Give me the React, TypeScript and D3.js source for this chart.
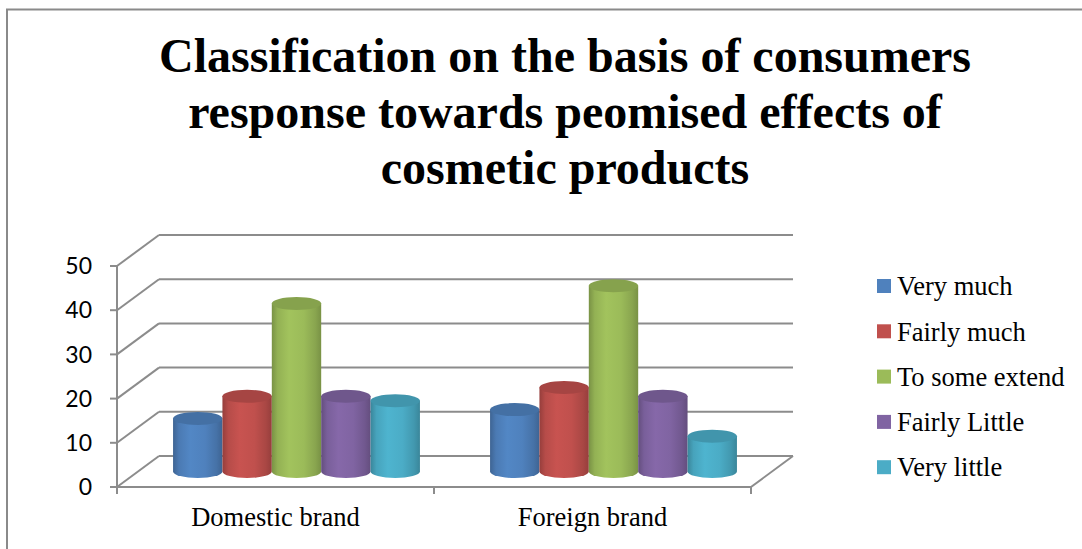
import React from "react";
import * as d3 from "d3";

const categories = ["Domestic brand", "Foreign brand"];
const seriesNames = ["Very much", "Fairly much", "To some extend", "Fairly Little", "Very little"];
const veryMuch = [12, 14];
const fairlyMuch = [17, 19];
const toSomeExtend = [38, 42];
const fairlyLittle = [17, 17];
const veryLittle = [16, 8];
const seriesValues = [veryMuch, fairlyMuch, toSomeExtend, fairlyLittle, veryLittle];
const yTicks = [0, 10, 20, 30, 40, 50];
const titleLines = [
  "Classification on the basis of consumers",
  "response towards peomised effects of",
  "cosmetic products",
];
const colors = ["#4F81BD", "#C0504D", "#9BBB59", "#8064A2", "#4BACC6"];

const W = 1082;
const H = 549;
const DX = 42;
const DY = -31;
const GRID = "#8c8c8c";
const SERIF = "'Liberation Serif', 'Times New Roman', serif";

export default function App() {
  const x = d3.scaleBand<string>().domain(categories).range([117, 751]).padding(0);
  const inner = d3
    .scaleBand<string>()
    .domain(seriesNames)
    .range([0, x.bandwidth()])
    .paddingInner(0)
    .paddingOuter(0.71);
  const y = d3.scaleLinear().domain([0, 50]).range([487, 266]);

  const rx = inner.bandwidth() / 2;
  const ry = 6.5;

  const bars: JSX.Element[] = [];
  categories.forEach((cat, ci) => {
    seriesNames.forEach((s, si) => {
      const v = seriesValues[si][ci];
      const cx = (x(cat) as number) + (inner(s) as number) + rx + DX / 2;
      const yb = y(0) + DY / 2;
      const yt = y(v) + DY / 2;
      const c = d3.color(colors[si])!;
      const body = `M${cx - rx},${yt} L${cx - rx},${yb} A${rx},${ry} 0 0 0 ${cx + rx},${yb} L${cx + rx},${yt} Z`;
      bars.push(
        <g key={`${ci}-${si}`}>
          <path d={body} fill={`url(#grad${si})`} />
          <ellipse cx={cx} cy={yt} rx={rx} ry={ry} fill={c.darker(0.4).toString()} />
        </g>
      );
    });
  });

  return (
    <svg width={W} height={H} style={{ position: "absolute", left: 0, top: 0, background: "#fff" }}>
      <defs>
        {colors.map((col, i) => {
          const c = d3.color(col)!;
          return (
            <linearGradient id={`grad${i}`} key={i} x1="0" x2="1" y1="0" y2="0">
              <stop offset="0%" stopColor={c.darker(0.7).toString()} />
              <stop offset="12%" stopColor={c.darker(0.15).toString()} />
              <stop offset="35%" stopColor={c.brighter(0.12).toString()} />
              <stop offset="65%" stopColor={c.toString()} />
              <stop offset="88%" stopColor={c.darker(0.35).toString()} />
              <stop offset="100%" stopColor={c.darker(0.7).toString()} />
            </linearGradient>
          );
        })}
      </defs>
      <rect x={7} y={9.5} width={W + 20} height={H + 20} fill="#fff" stroke="#8a8a8a" strokeWidth={2} />

      {titleLines.map((t, i) => (
        <text
          key={i}
          x={565}
          y={72 + i * 56}
          textAnchor="middle"
          fontFamily={SERIF}
          fontWeight="bold"
          fontSize={48}
          fill="#000"
        >
          {t}
        </text>
      ))}

      {/* back wall and side wall grid */}
      {yTicks.map((t) => (
        <g key={t}>
          <line x1={117} y1={y(t)} x2={117 + DX} y2={y(t) + DY} stroke={GRID} strokeWidth={2} />
          <line x1={117 + DX} y1={y(t) + DY} x2={751 + DX} y2={y(t) + DY} stroke={GRID} strokeWidth={2} />
          <line x1={110} y1={y(t)} x2={117} y2={y(t)} stroke={GRID} strokeWidth={2} />
          <text
            x={92}
            y={y(t)}
            dy="0.36em"
            textAnchor="end"
            fontFamily="Lato, 'Open Sans', sans-serif"
            fontSize={23}
            fill="#000"
          >
            {t}
          </text>
        </g>
      ))}
      {/* floor */}
      <line x1={117} y1={y(0)} x2={751} y2={y(0)} stroke={GRID} strokeWidth={2} />
      <line x1={751} y1={y(0)} x2={751 + DX} y2={y(0) + DY} stroke={GRID} strokeWidth={2} />
      <line x1={117} y1={y(50)} x2={117} y2={y(0)} stroke={GRID} strokeWidth={2} />
      {[...categories.map((c) => x(c) as number), 751].map((tx, i) => (
        <line key={i} x1={tx} y1={y(0)} x2={tx} y2={y(0) + 7} stroke={GRID} strokeWidth={2} />
      ))}

      {bars}

      {categories.map((c) => (
        <text
          key={c}
          x={(x(c) as number) + x.bandwidth() / 2}
          y={526}
          textAnchor="middle"
          fontFamily={SERIF}
          fontSize={26.5}
          fill="#000"
        >
          {c}
        </text>
      ))}

      {seriesNames.map((s, i) => (
        <g key={s} transform={`translate(877, ${286 + i * 45.3})`}>
          <rect x={0} y={-7} width={14} height={14} fill={colors[i]} />
          <text x={20} y={0} dy="0.35em" fontFamily={SERIF} fontSize={26.5} fill="#000">
            {s}
          </text>
        </g>
      ))}
    </svg>
  );
}
